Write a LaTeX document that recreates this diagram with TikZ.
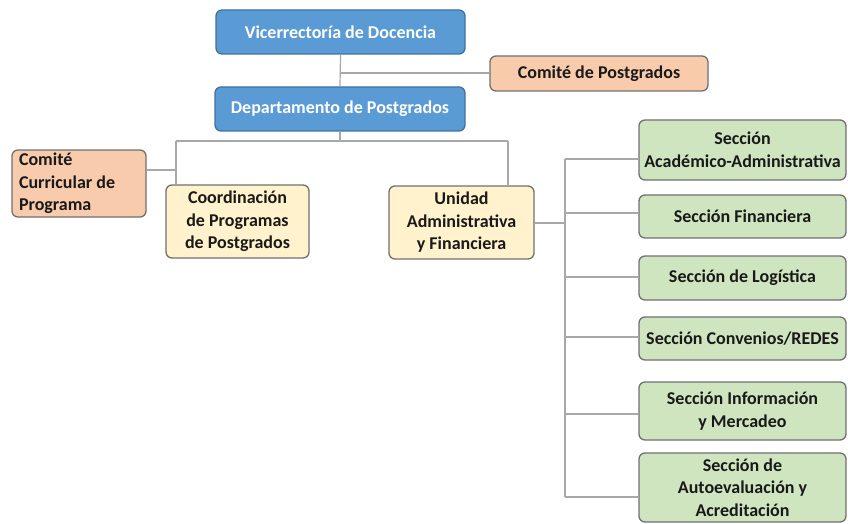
\documentclass[tikz,border=0pt]{standalone}
\usepackage{fontspec}
\setmainfont{Carlito}
\begin{document}
\begin{tikzpicture}[x=1pt,y=-1pt,
  box/.style={draw=boxborder,line width=1.3pt,rounded corners=6pt,inner sep=0pt,align=flush center,font=\fontsize{18}{22.5}\selectfont\bfseries,text=black!90},
  bluebox/.style={box,fill=blueF,draw=blueB,text=white},
  orbox/.style={box,fill=orF},
  yebox/.style={box,fill=yeF},
  grbox/.style={box,fill=grF,minimum width=207pt},
  conn/.style={draw=lineC,line width=1.2pt}]
\definecolor{blueF}{HTML}{5B9BD5}
\definecolor{blueB}{HTML}{41719C}
\definecolor{orF}{HTML}{F8CBAD}
\definecolor{yeF}{HTML}{FFF2CC}
\definecolor{grF}{HTML}{CFE5BF}
\definecolor{boxborder}{HTML}{707070}
\definecolor{lineC}{HTML}{A8A8A8}
\useasboundingbox (0,0) rectangle (848,524);
% nodes
\node[bluebox,minimum width=249pt,minimum height=44pt] (vic) at (340.5,32) {Vicerrectoría de Docencia};
\node[bluebox,minimum width=250pt,minimum height=44pt] (dep) at (340,109) {Departamento de Postgrados};
\node[orbox,minimum width=218pt,minimum height=35pt] (cpg) at (599,73.5) {Comité de Postgrados};
\node[orbox,minimum width=134pt,minimum height=67pt,text width=120pt,align=flush left] (ccp) at (79,183.5) {Comité\\Curricular de\\Programa};
\node[yebox,minimum width=143pt,minimum height=73pt] (coord) at (237.5,221.5) {Coordinación\\de Programas\\de Postgrados};
\node[yebox,minimum width=145pt,minimum height=73pt] (uaf) at (461.5,222.5) {Unidad\\Administrativa\\y Financiera};
\node[grbox,minimum height=60pt] (s1) at (742.5,150) {Sección\\Académico-Administrativa};
\node[grbox,minimum height=43pt] (s2) at (742.5,216.5) {Sección Financiera};
\node[grbox,minimum height=44pt] (s3) at (742.5,278) {Sección de Logística};
\node[grbox,minimum height=43pt] (s4) at (742.5,338.5) {Sección Convenios/REDES};
\node[grbox,minimum height=58pt] (s5) at (742.5,411) {Sección Información\\y Mercadeo};
\node[grbox,minimum height=69pt] (s6) at (742.5,487.5) {Sección de\\Autoevaluación y\\Acreditación};
% junctions
\coordinate (jc) at (340,73);
\coordinate (jd) at (340,141);
\coordinate (jl) at (176,141);
\coordinate (jr) at (508,141);
\coordinate (jcc) at (176,170);
\coordinate (ju) at (565,223);
\coordinate (jt) at (565,159);
\coordinate (jb) at (565,497);
\coordinate (j2) at (565,213);
\coordinate (j3) at (565,277);
\coordinate (j4) at (565,337);
\coordinate (j5) at (565,414);
% connectors
\draw[conn] (vic.south) -- (dep.north);
\draw[conn] (jc) -- (jc -| cpg.west);
\draw[conn] (dep.south) -- (jd);
\draw[conn] (jl) -- (jr);
\draw[conn] (jl) -- (jl |- coord.north);
\draw[conn] (jr) -- (jr |- uaf.north);
\draw[conn] (jcc -| ccp.east) -- (jcc);
\draw[conn] (ju -| uaf.east) -- (ju);
\draw[conn] (jt) -- (jb);
\draw[conn] (jt) -- (jt -| s1.west);
\draw[conn] (j2) -- (j2 -| s2.west);
\draw[conn] (j3) -- (j3 -| s3.west);
\draw[conn] (j4) -- (j4 -| s4.west);
\draw[conn] (j5) -- (j5 -| s5.west);
\draw[conn] (jb) -- (jb -| s6.west);
\end{tikzpicture}
\end{document}
